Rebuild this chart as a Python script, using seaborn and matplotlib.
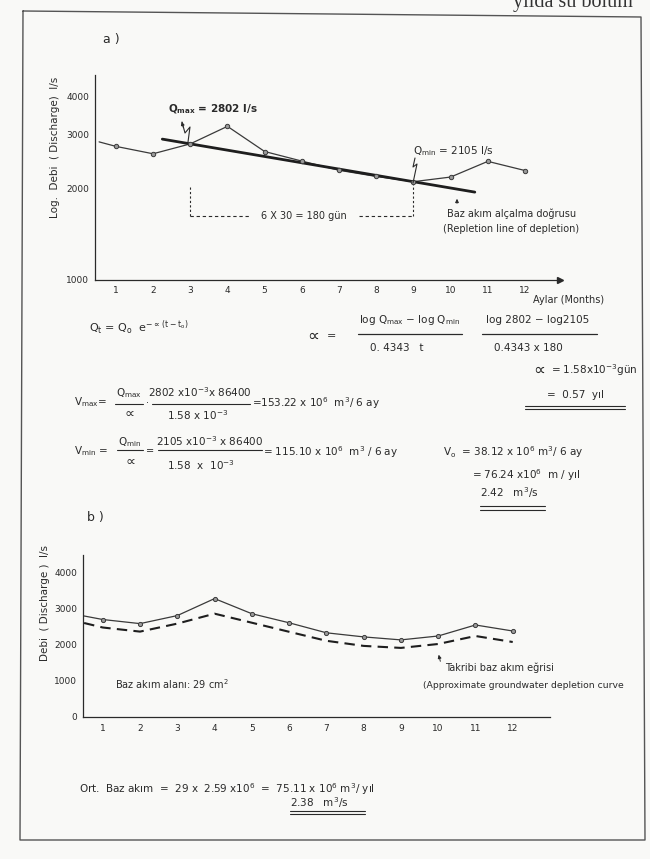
import numpy as np
import pandas as pd
import matplotlib
matplotlib.use("Agg")
import matplotlib.pyplot as plt
import seaborn as sns
from matplotlib.lines import Line2D
from matplotlib.ticker import FixedLocator, NullFormatter

# ---------------- data ----------------
month_labels = [str(m) for m in range(1, 13)]
month_pos = list(range(1, 13))

# (a) log plot of monthly discharge (l/s)
months_a = [0.55, 1, 2, 3, 4, 5, 6, 7, 8, 9, 10, 11, 12]
discharge_a = [2845, 2750, 2600, 2802, 3200, 2645, 2460, 2295, 2190, 2105, 2180, 2455, 2290]
# depletion (recession) line through Qmax (month 3) and Qmin (month 9)
depl_months = [2.25, 10.65]
depl_q = [2905, 1945]
q_max, q_min = 2802, 2105
t_max_month, t_min_month = 3, 9
bracket_q = 1620
yticks_a = [1000, 2000, 3000, 4000]

# (b) linear plot of discharge and approximate base flow curve
months_b = [0.5, 1, 2, 3, 4, 5, 6, 7, 8, 9, 10, 11, 12]
discharge_b = [2806, 2708, 2594, 2817, 3289, 2869, 2617, 2339, 2225, 2142, 2250, 2556, 2389]
baseflow_b = [2611, 2486, 2372, 2594, 2870, 2619, 2367, 2117, 1975, 1919, 2028, 2250, 2083]
yticks_b = [0, 1000, 2000, 3000, 4000]

# ---------------- style ----------------
sns.set_style("white")
plt.rcParams["font.family"] = ["DejaVu Sans"]
plt.rcParams["mathtext.default"] = "regular"
BG = "#f9f9f7"
INK = "#2a2a2a"
LINE = "#3a3a3a"

W, H = 650, 859
fig = plt.figure(figsize=(W / 100, H / 100), dpi=100, facecolor=BG)


def fx(x):
    return x / W


def fy(y):
    return 1 - y / H


def txt(x, y, s, size=7.5, ha="left", va="center", **kw):
    fig.text(fx(x), fy(y), s, fontsize=size, ha=ha, va=va, color=INK, **kw)


def seg(xs, ys, lw=0.8, ls="-", color=INK):
    fig.add_artist(Line2D([fx(v) for v in xs], [fy(v) for v in ys],
                          transform=fig.transFigure, lw=lw, ls=ls, color=color))


def arrow(x0, y0, x1, y1):
    fig.add_artist(matplotlib.patches.FancyArrowPatch(
        (fx(x0), fy(y0)), (fx(x1), fy(y1)), transform=fig.transFigure,
        arrowstyle="-|>", mutation_scale=5, lw=0.7, color=INK))


# page frame
seg([23, 641, 645, 20, 23], [11, 17, 840, 840, 11], lw=1.0, color="#555555")
# clipped text line of the page above
fig.text(fx(513), fy(2), "yılda su bölüm", fontsize=14.5, family="Liberation Serif",
         ha="left", va="center", color="#333333")

# ---------------- chart (a) ----------------
ax1 = fig.add_axes([fx(95), fy(280), fx(560) - fx(95), fy(75) - fy(280)])
ax1.set_facecolor(BG)
sns.lineplot(x=months_a, y=discharge_a, ax=ax1, color=LINE, lw=0.9)
sns.scatterplot(x=months_a[1:], y=discharge_a[1:], ax=ax1, s=10, color="#9a9a9a",
                edgecolor=LINE, linewidth=0.7, zorder=4)
sns.lineplot(x=depl_months, y=depl_q, ax=ax1, color="#1e1e1e", lw=2.0)
ax1.set_yscale("log")
ax1.set_ylim(1000, 4720)
ax1.set_xlim(0.44, 12.94)
ax1.yaxis.set_major_locator(FixedLocator(yticks_a))
ax1.set_yticklabels([str(v) for v in yticks_a])
ax1.yaxis.set_minor_locator(FixedLocator([]))
ax1.yaxis.set_minor_formatter(NullFormatter())
ax1.set_xticks(month_pos)
ax1.set_xticklabels(month_labels)
ax1.set_xticks([m + 0.5 for m in range(0, 13)], minor=True)
ax1.tick_params(axis="x", which="major", length=0, labelsize=6.5, pad=4, colors=INK)
ax1.tick_params(axis="x", which="minor", length=3, direction="in", width=0.8, color=INK)
ax1.tick_params(axis="y", which="major", length=3, direction="out", width=0.8,
                labelsize=6.5, pad=1, colors=INK)
for s in ["top", "right"]:
    ax1.spines[s].set_visible(False)
for s in ["left", "bottom"]:
    ax1.spines[s].set_color(INK)
    ax1.spines[s].set_linewidth(0.9)
ax1.plot([1], [0], marker=">", ms=4, color=INK, transform=ax1.transAxes, clip_on=False)
ax1.set_xlabel("")
ax1.set_ylabel("")

# bracket 6 x 30 = 180 gun
ax1.plot([t_max_month, t_max_month], [2023, bracket_q], ls=(0, (2, 2)), color=INK, lw=0.8)
ax1.plot([t_max_month, 4.6], [bracket_q, bracket_q], ls=(0, (3, 2.5)), color=INK, lw=0.8)
ax1.plot([7.55, t_min_month], [bracket_q, bracket_q], ls=(0, (3, 2.5)), color=INK, lw=0.8)
ax1.plot([t_min_month, t_min_month], [bracket_q, q_min], ls=(0, (2, 2)), color=INK, lw=0.8)
ax1.text(6.05, bracket_q, "6 X 30 = 180 gün", fontsize=7, ha="center", va="center",
         color=INK)

txt(103, 39, "a )", size=9)
txt(55, 147, "Log.  Debi  ( Discharge)  l/s", size=7.5, rotation=90, ha="center")
txt(168, 109, "Q$_{max}$ = 2802 l/s", size=7.5, weight="bold")
seg([182, 185, 190, 188], [122, 133, 127, 142], lw=0.8)
arrow(184, 130, 181, 119)
txt(413, 151, "Q$_{min}$ = 2105 l/s", size=7.5)
seg([415, 413, 417, 413], [158, 167, 164, 183], lw=0.8)
arrow(457, 206, 457, 196)
txt(447, 214, "Baz akım alçalma doğrusu", size=7)
txt(443, 229, "(Repletion line of depletion)", size=7)
txt(533, 300, "Aylar (Months)", size=7)

# ---------------- formulas ----------------
txt(89, 328, "Q$_t$ = Q$_o$  e$^{-\\propto\\,(t - t_o)}$", size=8)
txt(307, 336, "∝", size=12)
txt(327, 336, "=", size=8)
txt(410, 320, "log Q$_{max}$ − log Q$_{min}$", size=7.5, ha="center")
seg([358, 462], [334, 334], lw=0.9)
txt(397, 348, "0. 4343   t", size=7.5, ha="center")
txt(538, 320, "log 2802 − log2105", size=7.5, ha="center")
seg([482, 597], [334, 334], lw=0.9)
txt(528, 348, "0.4343 x 180", size=7.5, ha="center")

txt(533, 370, "∝", size=12)
txt(551, 370, "= 1.58x10$^{-3}$gün", size=7.5)
txt(547, 395, "=  0.57  yıl", size=7.5)
seg([525, 625], [406, 406], lw=0.8)
seg([525, 625], [409.5, 409.5], lw=0.8)

txt(74, 402, "V$_{max}$=", size=7.5)
txt(129, 393, "Q$_{max}$", size=7.5, ha="center")
seg([115, 143], [404, 404], lw=0.8)
txt(129, 414, "∝", size=10, ha="center")
txt(147.5, 403, "·", size=7, ha="center")
txt(200, 392, "2802 x10$^{-3}$x 86400", size=7.5, ha="center")
seg([152, 250], [404, 404], lw=0.8)
txt(198, 415, "1.58 x 10$^{-3}$", size=7.5, ha="center")
txt(252, 403, "=153.22 x 10$^{6}$  m$^{3}$/ 6 ay", size=7.5)

txt(74, 451, "V$_{min}$ =", size=7.5)
txt(130, 442, "Q$_{min}$", size=7.5, ha="center")
seg([117, 143], [450, 450], lw=0.8)
txt(130, 462, "∝", size=10, ha="center")
txt(150.5, 451, "=", size=7, ha="center")
txt(210, 441, "2105 x10$^{-3}$ x 86400", size=7.5, ha="center")
seg([158, 262], [450, 450], lw=0.8)
txt(201, 465, "1.58  x  10$^{-3}$", size=7.5, ha="center")
txt(263, 452, "= 115.10 x 10$^{6}$  m$^{3}$ / 6 ay", size=7.5)

txt(443, 452, "V$_o$  = 38.12 x 10$^{6}$ m$^{3}$/ 6 ay", size=7.5)
txt(472, 475, "= 76.24 x10$^{6}$  m / yıl", size=7.5)
txt(480, 493, "2.42   m$^{3}$/s", size=7.5)
seg([480, 545], [506, 506], lw=0.8)
seg([480, 545], [509.5, 509.5], lw=0.8)

# ---------------- chart (b) ----------------
txt(87, 518, "b )", size=9)
ax2 = fig.add_axes([fx(83), fy(717), fx(550) - fx(83), fy(555) - fy(717)])
ax2.set_facecolor(BG)
sns.lineplot(x=months_b, y=discharge_b, ax=ax2, color=LINE, lw=0.9)
sns.scatterplot(x=months_b[1:], y=discharge_b[1:], ax=ax2, s=9, color="#9a9a9a",
                edgecolor=LINE, linewidth=0.7, zorder=4)
sns.lineplot(x=months_b, y=baseflow_b, ax=ax2, color="#1e1e1e", lw=1.5)
ax2.lines[-1].set_dashes((5, 3))
ax2.set_ylim(0, 4500)
ax2.set_xlim(0.47, 13.0)
ax2.set_yticks(yticks_b)
ax2.set_yticklabels([str(v) for v in yticks_b])
ax2.set_xticks(month_pos)
ax2.set_xticklabels(month_labels)
ax2.set_xticks([m + 0.5 for m in range(1, 13)], minor=True)
ax2.tick_params(axis="x", which="major", length=0, labelsize=6.5, pad=5, colors=INK)
ax2.tick_params(axis="x", which="minor", length=3, direction="in", width=0.8, color=INK)
ax2.tick_params(axis="y", which="major", length=3, direction="out", width=0.8,
                labelsize=6.5, pad=1, colors=INK)
for s in ["top", "right"]:
    ax2.spines[s].set_visible(False)
for s in ["left", "bottom"]:
    ax2.spines[s].set_color(INK)
    ax2.spines[s].set_linewidth(0.9)
ax2.set_xlabel("")
ax2.set_ylabel("")

txt(45, 603, "Debi  ( Discharge )  l/s", size=7.5, rotation=90, ha="center")
txt(115, 684, "Baz akım alanı: 29 cm$^{2}$", size=7)
txt(445, 668, "Takribi baz akım eğrisi", size=7)
txt(423, 686, "(Approximate groundwater depletion curve", size=6.7)
arrow(441, 664, 438, 652)

txt(79, 789, "Ort.  Baz akım  =  29 x  2.59 x10$^{6}$  =  75.11 x 10$^{6}$ m$^{3}$/ yıl", size=7.5)
txt(290, 803, "2.38   m$^{3}$/s", size=7.5)
seg([290, 365], [811, 811], lw=0.8)
seg([290, 365], [814, 814], lw=0.8)

fig.savefig("out.png", dpi=100, facecolor=BG)
